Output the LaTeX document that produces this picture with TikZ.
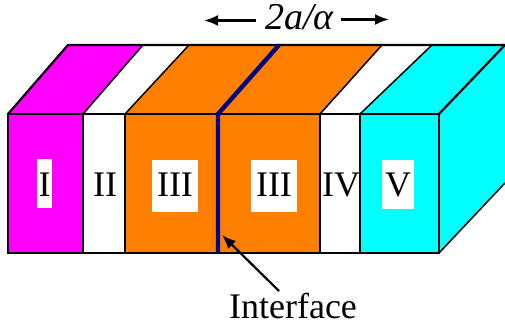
\documentclass[tikz,border=0pt]{standalone}
\usepackage{fontspec}
\setmainfont{Liberation Serif}
\usetikzlibrary{arrows.meta}
\definecolor{orng}{RGB}{255,128,0}
\definecolor{navyl}{RGB}{0,0,128}
\definecolor{magn}{RGB}{255,0,255}
\definecolor{cyn}{RGB}{0,255,255}
\tikzset{
  x=1pt,y=-1pt,
  face/.style={draw=black,line width=2.2pt,line join=miter},
  thin face/.style={draw=black,line width=1.5pt},
  lab/.style={inner sep=0pt,font=\fontsize{36}{36}\selectfont,text=black},
  patch/.style={fill=white,draw=none},
  arr/.style={draw=black,line width=2.2pt,-{Latex[length=14pt,width=11pt]}}
}
\begin{document}
\begin{tikzpicture}
\useasboundingbox (0,0) rectangle (505,326);
% top faces
\fill[magn] (8,114)--(68,45)--(143,45)--(83,114)--cycle;
\fill[orng] (125,114)--(189,45)--(382,45)--(320,114)--cycle;
\fill[cyn] (360,114)--(432,45)--(505,45)--(439,114)--cycle;
% right face
\fill[cyn] (439,114)--(505,45)--(505,183)--(439,253)--cycle;
% front faces
\fill[magn] (8,114) rectangle (83,253);
\fill[orng] (125,114) rectangle (320,253);
\fill[cyn] (360,114) rectangle (439,253);
% white patches
\fill[patch] (37,159) rectangle (52,208);
\fill[patch] (152,160) rectangle (198,212);
\fill[patch] (251,160) rectangle (297,212);
\fill[patch] (382,160) rectangle (414,209);
% outlines
\draw[face] (8,114) rectangle (439,253);
\draw[face] (8,114)--(68,45)--(505,45);
\draw[face] (439,114)--(505,45);
\draw[thin face] (439,253)--(505,183);
\draw[thin face] (83,114)--(83,253) (125,114)--(125,253) (320,114)--(320,253) (360,114)--(360,253);
\draw[thin face] (83,114)--(143,45) (125,114)--(189,45) (320,114)--(382,45) (360,114)--(432,45);
% interface
\coordinate (ifb) at (279,45);
\coordinate (ifm) at (218,114);
\coordinate (ifl) at (218,253);
\draw[navyl,line width=4.4pt,line join=miter] (ifb)--(ifm)--(ifl);
% labels
\node[lab] (l1) at (44.5,184.5) {I};
\node[lab] (l2) at (105,184.5) {II};
\node[lab] (l3) at (175,184.5) {III};
\node[lab] (l4) at (274,184.5) {III};
\node[lab] (l5) at (341,184.5) {IV};
\node[lab] (l6) at (398,184.5) {V};
\node[inner sep=0pt,font=\fontsize{36}{36}\selectfont,text=black,anchor=base] (if) at (293,318) {Interface};
\node[inner sep=0pt,font=\fontsize{38}{38}\selectfont\itshape,text=black,anchor=base] (dim) at (299.5,30) {2a/α};
% arrows
\coordinate (ia) at (222,235);
\coordinate (ib) at (279,291);
\draw[arr] (ib)--(ia);
\coordinate (la) at (204,20.5);
\coordinate (lb) at (256,20.5);
\coordinate (ra) at (341,19.5);
\coordinate (rb) at (389,19.5);
\draw[arr] (lb)--(la);
\draw[arr] (ra)--(rb);
\end{tikzpicture}
\end{document}
